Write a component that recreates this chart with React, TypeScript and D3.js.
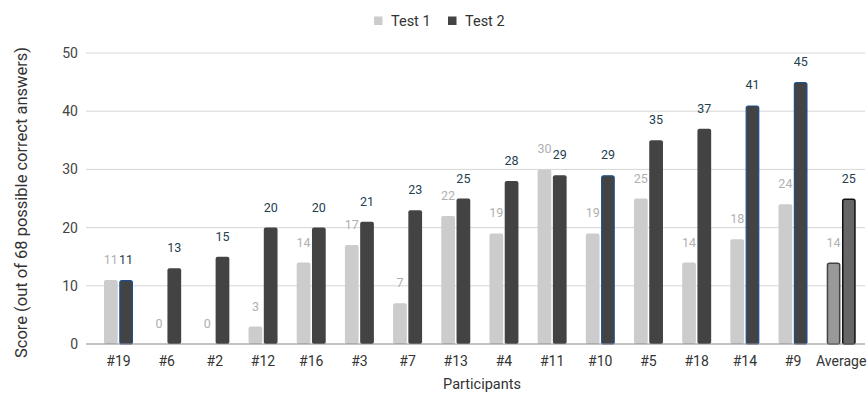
import React from "react";
import * as d3 from "d3";

const categories = ["#19", "#6", "#2", "#12", "#16", "#3", "#7", "#13", "#4", "#11", "#10", "#5", "#18", "#14", "#9", "Average"];
const test1 = [11, 0, 0, 3, 14, 17, 7, 22, 19, 30, 19, 25, 14, 18, 24, 14];
const test2 = [11, 13, 15, 20, 20, 21, 23, 25, 28, 29, 29, 35, 37, 41, 45, 25];
const outlined = ["#19", "#10", "#14", "#9"];
const yTicks = [0, 10, 20, 30, 40, 50];
const seriesNames = ["Test 1", "Test 2"];

const W = 867;
const H = 393;
const FONT = "Roboto, 'Noto Sans', Arial, sans-serif";

export default function App() {
  const x0 = d3
    .scaleBand<string>()
    .domain(categories)
    .range([94.4, 865.3])
    .paddingInner(0.398)
    .paddingOuter(0.199);
  const x1 = d3
    .scaleBand<string>()
    .domain(["t1", "t2"])
    .range([0, x0.bandwidth()])
    .paddingInner(0.1);
  const y = d3.scaleLinear().domain([0, 50]).range([344, 53]);

  const gridLeft = 86;
  const gridRight = 865;

  const barStyle = (series: number, cat: string) => {
    const avg = cat === "Average";
    if (series === 0) {
      return avg
        ? { fill: "#999999", stroke: "#444444", strokeWidth: 1.5 }
        : { fill: "#cccccc", stroke: "none", strokeWidth: 0 };
    }
    if (avg) return { fill: "#666666", stroke: "#111111", strokeWidth: 1.5 };
    if (outlined.includes(cat)) return { fill: "#434343", stroke: "#1f4e8c", strokeWidth: 1.2 };
    return { fill: "#434343", stroke: "none", strokeWidth: 0 };
  };

  const bars: React.ReactNode[] = [];
  const labels: React.ReactNode[] = [];
  categories.forEach((cat, i) => {
    [test1[i], test2[i]].forEach((v, s) => {
      const bx = (x0(cat) as number) + (x1(s === 0 ? "t1" : "t2") as number);
      const bw = x1.bandwidth();
      const top = y(v);
      const st = barStyle(s, cat);
      if (v > 0) {
        const inset = st.strokeWidth / 2;
        bars.push(
          <rect
            key={`b${i}-${s}`}
            x={bx + inset}
            y={top + inset}
            width={bw - 2 * inset}
            height={Math.max(0, y(0) - top - inset)}
            rx={2}
            ry={2}
            fill={st.fill}
            stroke={st.stroke}
            strokeWidth={st.strokeWidth}
          />
        );
      }
      labels.push(
        <text
          key={`l${i}-${s}`}
          x={bx + bw / 2}
          y={top - 16}
          textAnchor="middle"
          fontSize={12.5}
          fill={s === 0 ? "#b0b0b0" : "#25404f"}
        >
          {v}
        </text>
      );
    });
  });

  return (
    <svg
      width={W}
      height={H}
      style={{ position: "absolute", left: 0, top: 0, background: "#ffffff" }}
      fontFamily={FONT}
    >
      {/* horizontal gridlines */}
      {yTicks.map((t) => (
        <g key={`g${t}`}>
          {t !== 0 && (
            <line x1={gridLeft} x2={gridRight} y1={y(t)} y2={y(t)} stroke="#d6d6d6" strokeWidth={1} />
          )}
          <text x={78} y={y(t) + 5} textAnchor="end" fontSize={14} fill="#444444">
            {t}
          </text>
        </g>
      ))}

      {bars}

      {/* baseline */}
      <line x1={gridLeft} x2={gridRight} y1={y(0)} y2={y(0)} stroke="#8a8a8a" strokeWidth={1.2} />

      {labels}

      {/* category labels */}
      {categories.map((cat) => (
        <text
          key={`c${cat}`}
          x={(x0(cat) as number) + x0.bandwidth() / 2}
          y={365.5}
          textAnchor="middle"
          fontSize={14}
          fill="#333333"
        >
          {cat}
        </text>
      ))}

      {/* axis titles */}
      <text x={482} y={389} textAnchor="middle" fontSize={14.5} fill="#333333">
        Participants
      </text>
      <text
        transform={`translate(26.5, ${(y(0) + y(50)) / 2 + 4}) rotate(-90)`}
        textAnchor="middle"
        fontSize={16.5}
        fill="#333333"
      >
        Score (out of 68 possible correct answers)
      </text>

      {/* legend */}
      {seriesNames.map((name, i) => {
        const lx = [374, 448][i];
        return (
          <g key={`lg${name}`}>
            <rect x={lx} y={16.5} width={8.5} height={8.5} fill={i === 0 ? "#cccccc" : "#434343"} />
            <text x={lx + 17} y={25.5} fontSize={14.5} fill="#333333">
              {name}
            </text>
          </g>
        );
      })}
    </svg>
  );
}
